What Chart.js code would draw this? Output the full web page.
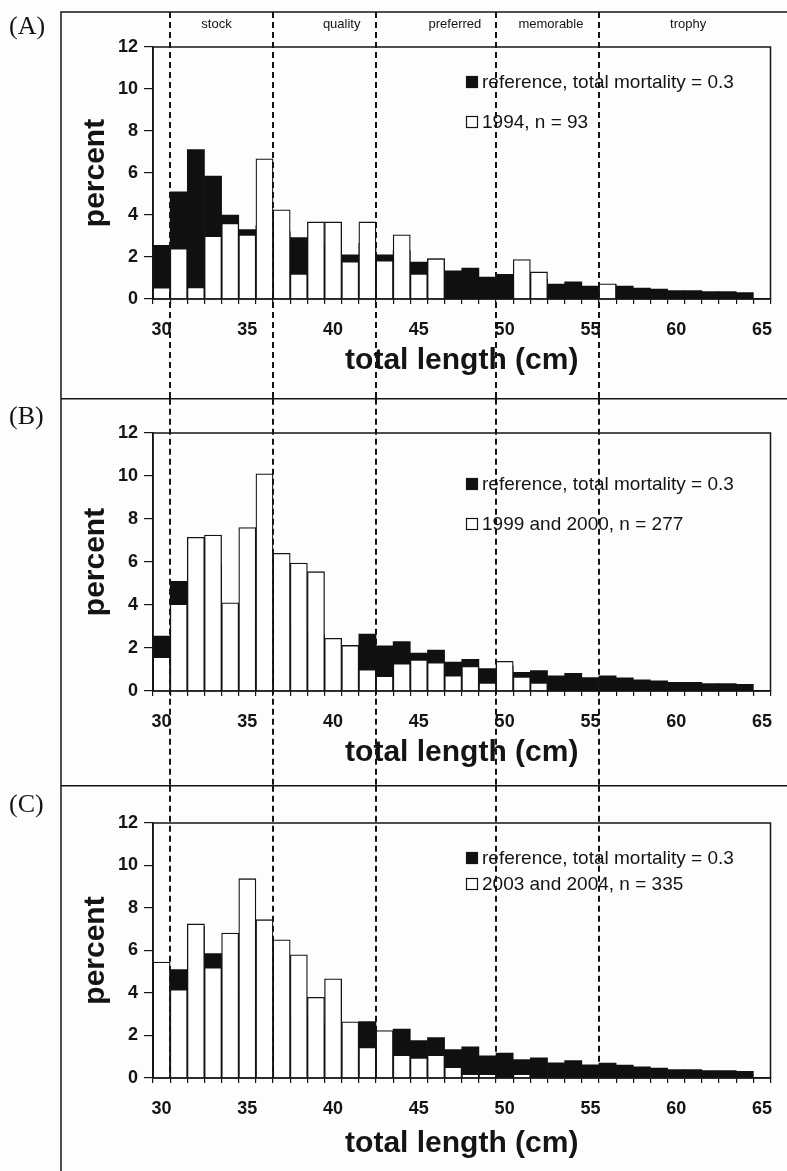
<!DOCTYPE html>
<html>
<head>
<meta charset="utf-8">
<script src="https://cdn.jsdelivr.net/npm/chart.js@4.4.0/dist/chart.umd.min.js"></script>
<style>
  html, body { margin: 0; padding: 0; background: #fdfdfd; }
  #fig { position: relative; width: 787px; height: 1171px; overflow: hidden; }
  canvas { position: absolute; left: 0; }
</style>
</head>
<body>
<div id="fig">
  <canvas id="panelA" width="787" height="398" style="top:0px"></canvas>
  <canvas id="panelB" width="787" height="387" style="top:398px"></canvas>
  <canvas id="panelC" width="787" height="386" style="top:785px"></canvas>
</div>
<script>
// length classes (cm)
const lengths = [30, 31, 32, 33, 34, 35, 36, 37, 38, 39, 40, 41, 42, 43, 44, 45, 46, 47,
  48, 49, 50, 51, 52, 53, 54, 55, 56, 57, 58, 59, 60, 61, 62, 63, 64, 65];

// reference distribution, total mortality = 0.3 (same in all panels)
const reference = [2.55, 5.1, 7.12, 5.85, 4.0, 3.3, 3.5, 3.2, 2.93, 2.6, 2.3, 2.1, 2.65, 2.1,
  2.3, 1.76, 1.9, 1.34, 1.47, 1.04, 1.17, 0.87, 0.95, 0.71, 0.82, 0.62, 0.7, 0.61, 0.52,
  0.47, 0.4, 0.4, 0.35, 0.35, 0.31, 0];

// observed samples
const sample1994 = [0.55, 2.4, 0.56, 3.0, 3.6, 3.06, 6.68, 4.25, 1.2, 3.67, 3.67, 1.79, 3.67,
  1.83, 3.06, 1.2, 1.92, 0, 0, 0, 0, 1.88, 1.29, 0, 0, 0, 0.72, 0, 0, 0, 0, 0, 0, 0, 0, 0];
const sample1999 = [1.58, 4.05, 7.15, 7.25, 4.1, 7.6, 10.1, 6.4, 5.95, 5.55, 2.45, 2.12, 1.0,
  0.7, 1.28, 1.45, 1.33, 0.72, 1.15, 0.38, 1.38, 0.66, 0.38, 0, 0, 0, 0, 0, 0, 0, 0, 0, 0, 0, 0, 0];
const sample2003 = [5.46, 4.16, 7.25, 5.2, 6.82, 9.38, 7.45, 6.5, 5.8, 3.8, 4.67, 2.64, 1.44,
  2.23, 1.08, 0.95, 1.08, 0.52, 0.19, 0.19, 0, 0.19, 0, 0, 0, 0, 0, 0, 0, 0, 0, 0, 0, 0, 0, 0];

const yTicks = [0, 2, 4, 6, 8, 10, 12];

// size categories and their lower limits (cm)
const zoneNames = ['stock', 'quality', 'preferred', 'memorable', 'trophy'];
const zoneBreaks = [30.5, 36.5, 42.5, 49.5, 55.5];

const ink = '#141414';
const sans = 'Arial, "Liberation Sans", sans-serif';

const figurePlugin = {
  id: 'figure',
  afterDraw(chart, args, o) {
    const ctx = chart.ctx;
    const area = chart.chartArea;
    const xs = chart.scales.x;
    const W = chart.width, H = chart.height;
    ctx.save();

    // plot frame
    ctx.strokeStyle = ink;
    ctx.lineWidth = 1.5;
    ctx.strokeRect(area.left, area.top, area.right - area.left, area.bottom - area.top);

    // panel frame (left and top edges)
    ctx.beginPath();
    ctx.moveTo(o.frameLeft, H);
    ctx.lineTo(o.frameLeft, o.frameTop);
    ctx.lineTo(W, o.frameTop);
    ctx.stroke();

    // dashed size-category limits
    ctx.setLineDash([6, 4]);
    ctx.lineWidth = 2;
    const lineEnd = o.linesToAxis ? area.bottom : H;
    zoneBreaks.forEach(b => {
      const px = Math.round(xs.getPixelForValue(b - lengths[0]));
      ctx.beginPath();
      ctx.moveTo(px, o.frameTop);
      ctx.lineTo(px, lineEnd);
      ctx.stroke();
    });
    ctx.setLineDash([]);

    ctx.fillStyle = ink;
    // panel letter
    ctx.font = '26px "Liberation Serif", "Times New Roman", serif';
    ctx.textAlign = 'left';
    ctx.textBaseline = 'middle';
    ctx.fillText(o.letter, 9, o.letterY);

    // category names
    if (o.zoneLabelAt) {
      ctx.font = '13px ' + sans;
      ctx.textAlign = 'center';
      zoneNames.forEach((name, i) => {
        ctx.fillText(name, xs.getPixelForValue(o.zoneLabelAt[i] - lengths[0]), o.zoneLabelY);
      });
    }

    // axis titles
    ctx.font = 'bold 30px ' + sans;
    ctx.textAlign = 'center';
    ctx.fillText('total length (cm)', (area.left + area.right) / 2, area.bottom + o.xTitleGap);
    ctx.save();
    ctx.translate(96, (area.top + area.bottom) / 2);
    ctx.rotate(-Math.PI / 2);
    ctx.fillText('percent', 0, 0);
    ctx.restore();

    // legend
    ctx.font = '19px ' + sans;
    ctx.textAlign = 'left';
    const sets = [chart.data.datasets[1], chart.data.datasets[0]];
    sets.forEach((ds, i) => {
      const cy = o.legendRows[i];
      ctx.fillStyle = ds.backgroundColor;
      ctx.fillRect(o.legendX, cy - 6, 12, 12);
      ctx.strokeStyle = ink;
      ctx.lineWidth = 1.2;
      ctx.strokeRect(o.legendX + 0.5, cy - 5.5, 11, 11);
      ctx.fillStyle = ink;
      ctx.fillText(ds.label, o.legendX + 16, cy + 1);
    });

    ctx.restore();
  }
};

function makePanel(id, values, label, p) {
  const canvas = document.getElementById(id);
  const H = canvas.height;
  return new Chart(canvas, {
    type: 'bar',
    data: {
      labels: lengths,
      datasets: [
        {
          label: label,
          data: values,
          backgroundColor: '#ffffff',
          borderColor: ink,
          borderWidth: 1.3,
          order: 0
        },
        {
          label: 'reference, total mortality = 0.3',
          data: reference,
          backgroundColor: '#101010',
          borderWidth: 0,
          order: 1
        }
      ]
    },
    options: {
      responsive: false,
      animation: false,
      events: [],
      grouped: false,
      barPercentage: 1,
      categoryPercentage: 1,
      layout: { padding: { top: p.top, right: 5, left: 0, bottom: 0 } },
      plugins: {
        legend: { display: false },
        tooltip: { enabled: false },
        figure: p
      },
      scales: {
        x: {
          afterFit(s) { s.height = H - p.bottom; },
          grid: { drawOnChartArea: false, tickLength: 5, color: ink, lineWidth: 1.2 },
          border: { color: ink, width: 1.5 },
          ticks: {
            autoSkip: false,
            maxRotation: 0,
            minRotation: 0,
            padding: 15,
            color: ink,
            font: { family: sans, size: 18, weight: 'bold' },
            callback(value) {
              const v = this.getLabelForValue(value);
              return Number(v) % 5 === 0 ? v : '';
            }
          }
        },
        y: {
          min: yTicks[0],
          max: yTicks[yTicks.length - 1],
          afterFit(s) { s.width = 153; },
          afterBuildTicks(s) { s.ticks = yTicks.map(v => ({ value: v })); },
          grid: { drawOnChartArea: false, tickLength: 9, color: ink, lineWidth: 1.2 },
          border: { color: ink, width: 1.5 },
          ticks: {
            padding: 6,
            color: ink,
            font: { family: sans, size: 18, weight: 'bold' }
          }
        }
      }
    },
    plugins: [figurePlugin]
  });
}

makePanel('panelA', sample1994, '1994, n = 93', {
  top: 47, bottom: 299, letter: '(A)', letterY: 27,
  frameLeft: 61, frameTop: 12, linesToAxis: false,
  zoneLabelAt: [33.2, 40.5, 47.1, 52.7, 60.7], zoneLabelY: 24,
  xTitleGap: 62, legendX: 466, legendRows: [82, 122]
});

makePanel('panelB', sample1999, '1999 and 2000, n = 277', {
  top: 35, bottom: 293, letter: '(B)', letterY: 19,
  frameLeft: 61, frameTop: 0.75, linesToAxis: false,
  zoneLabelAt: null, xTitleGap: 62, legendX: 466, legendRows: [86, 126]
});

makePanel('panelC', sample2003, '2003 and 2004, n = 335', {
  top: 38, bottom: 293, letter: '(C)', letterY: 20,
  frameLeft: 61, frameTop: 0.75, linesToAxis: true,
  zoneLabelAt: null, xTitleGap: 66, legendX: 466, legendRows: [73, 99]
});
</script>
</body>
</html>
